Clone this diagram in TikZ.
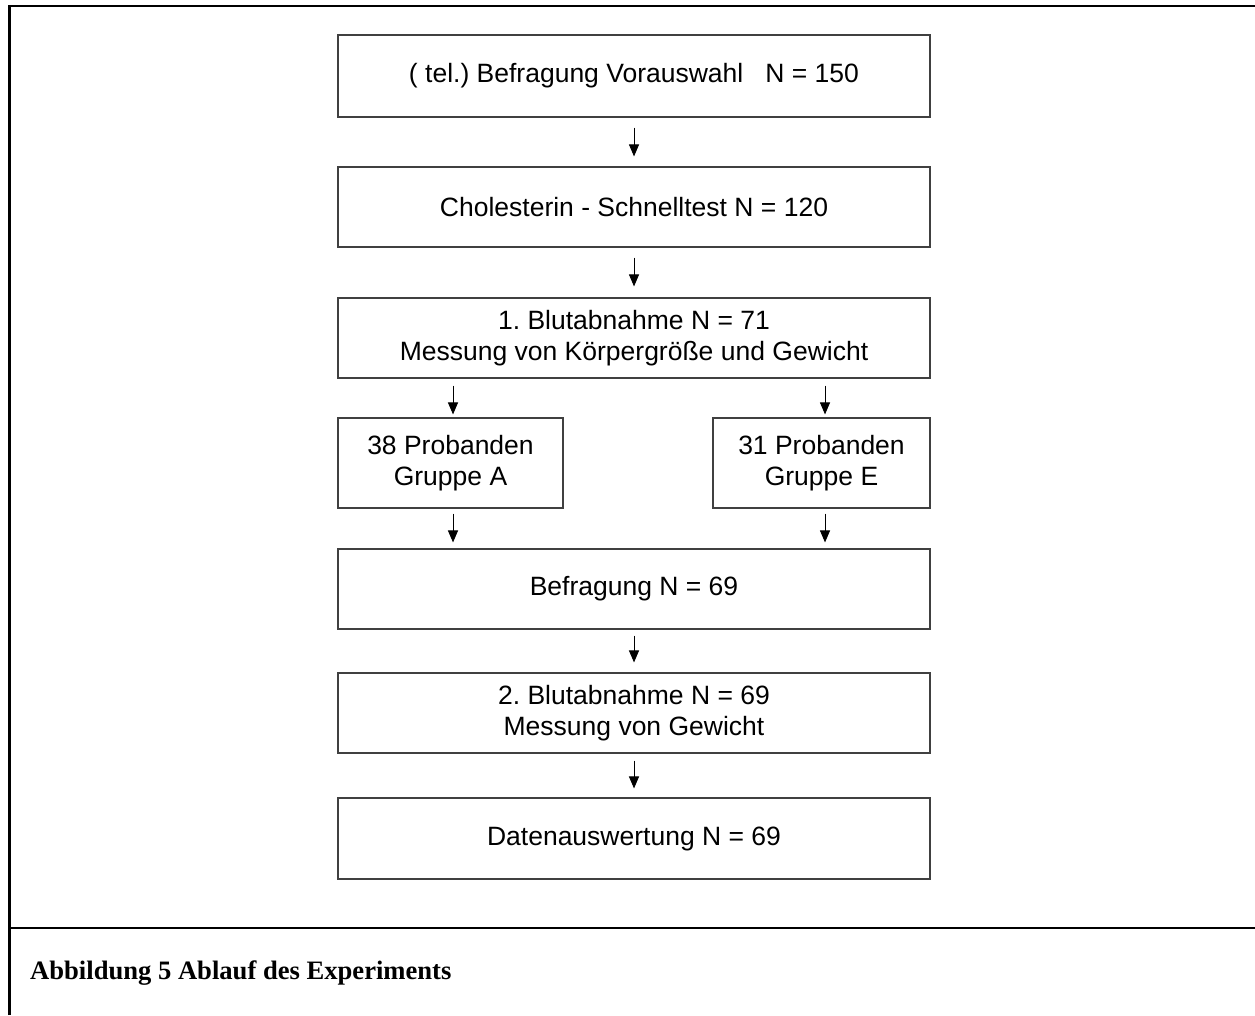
\documentclass[tikz,border=0pt]{standalone}
\usepackage{fontspec}
\setmainfont{Liberation Sans}
\newfontfamily\capfont{Liberation Serif}
\usetikzlibrary{arrows.meta,calc}
\frenchspacing
\begin{document}
\begin{tikzpicture}[x=1pt,y=-1pt,
  boxstyle/.style={draw=black!75,line width=1.1pt,align=center,inner sep=0pt,
    font=\frenchspacing\fontsize{26.5}{31.5}\selectfont,text=black},
  wide/.style={boxstyle,minimum width=592pt,minimum height=80pt},
  arr/.style={line width=1pt,-{Triangle[width=10pt,length=12pt]}},
  frame/.style={line width=2.6pt}]
\useasboundingbox (0,0) rectangle (1255,1015);
% frame
\coordinate (ftl) at (9.5,6);
\coordinate (ftr) at (1255,6);
\coordinate (fbl) at (9.5,1015);
\coordinate (fsl) at (9.5,928);
\coordinate (fsr) at (1255,928);
\draw[frame] (fbl) -- (ftl) -- (ftr);
\draw[frame] (fsl) -- (fsr);
% boxes
\node[wide,minimum height=82pt] (b1) at (634,76) {( tel.) Befragung Vorauswahl\ \ \ N = 150};
\node[wide] (b2) at (634,207) {Cholesterin - Schnelltest N = 120};
\node[wide] (b3) at (634,338) {1. Blutabnahme N = 71\\Messung von Körpergröße und Gewicht};
\node[boxstyle,minimum width=225pt,minimum height=90pt] (ga) at (450.5,463) {38 Probanden\\Gruppe A};
\node[boxstyle,minimum width=217pt,minimum height=90pt] (ge) at (821.5,463) {31 Probanden\\Gruppe E};
\node[wide] (bef) at (634,589) {Befragung N = 69};
\node[wide] (b5) at (634,713) {2. Blutabnahme N = 69\\Messung von Gewicht};
\node[wide,minimum height=81pt] (d) at (634,838.5) {Datenauswertung N = 69};
% arrows
\draw[arr] ($(b1.south)+(0,10)$) -- ($(b2.north)+(0,-10)$);
\draw[arr] ($(b2.south)+(0,10)$) -- ($(b3.north)+(0,-11)$);
\draw[arr] ($(b3.south -| ga.north)+(2.5,7)$) -- ($(ga.north)+(2.5,-3)$);
\draw[arr] ($(b3.south -| ge.north)+(3.5,7)$) -- ($(ge.north)+(3.5,-3)$);
\draw[arr] ($(ga.south)+(2.5,5)$) -- ($(bef.north -| ga.south)+(2.5,-6)$);
\draw[arr] ($(ge.south)+(3.5,5)$) -- ($(bef.north -| ge.south)+(3.5,-6)$);
\draw[arr] ($(bef.south)+(0,6)$) -- ($(b5.north)+(0,-10)$);
\draw[arr] ($(b5.south)+(0,7)$) -- ($(d.north)+(0,-9)$);
% caption
\node[anchor=base west,inner sep=0pt,font=\capfont\bfseries\fontsize{26.6}{30}\selectfont] (cap) at (30,979) {Abbildung 5 Ablauf des Experiments};
\end{tikzpicture}
\end{document}
